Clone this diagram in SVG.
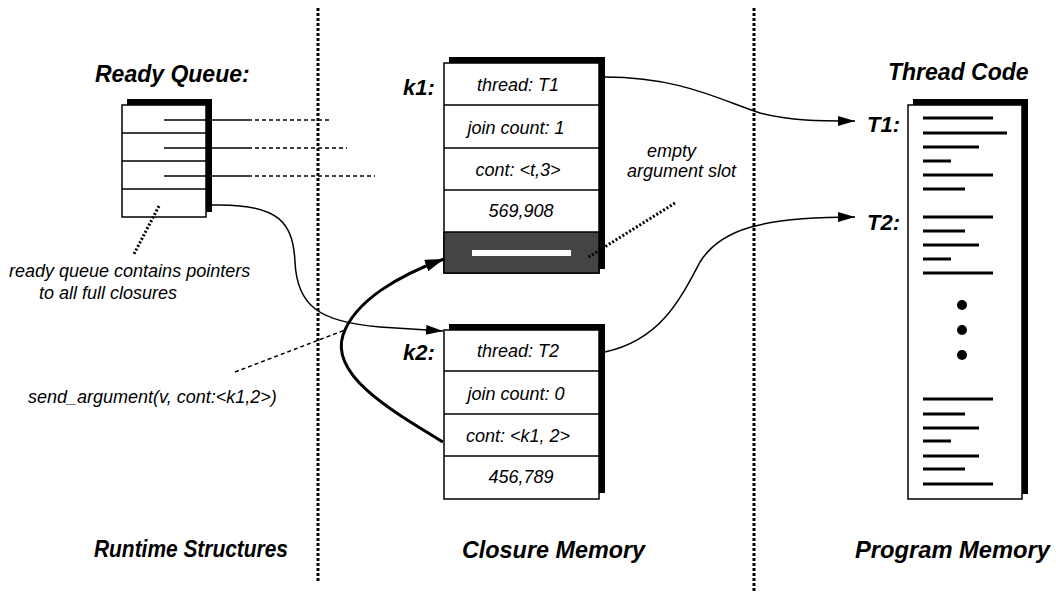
<svg xmlns="http://www.w3.org/2000/svg" width="1056" height="596" viewBox="0 0 1056 596">
<defs>
<marker id="ah" markerUnits="userSpaceOnUse" markerWidth="18" markerHeight="12" refX="17" refY="5" orient="auto">
<path d="M0,0 L17,5 L0,10 Z" fill="#000"/>
</marker>
<marker id="ahb" markerUnits="userSpaceOnUse" markerWidth="20" markerHeight="14" refX="19" refY="6" orient="auto">
<path d="M0,0 L19,6 L0,12 Z" fill="#000"/>
</marker>
<style>
text{font-family:"Liberation Sans",Arial,sans-serif;font-style:italic;fill:#000}
.cell{font-size:18px;text-anchor:middle}
.lbl{font-size:22px;font-weight:bold}
.hd{font-size:23px;font-weight:bold}
.note{font-size:18px}
.box{fill:#fff;stroke:#000;stroke-width:1.5}
.sh{fill:#000}
.div{stroke:#000;stroke-width:3;stroke-dasharray:3 2;fill:none}
.dot{stroke:#000;stroke-width:3;stroke-dasharray:2 2;fill:none}
.dash{stroke:#000;stroke-width:1.5;stroke-dasharray:4 3;fill:none}
.ln{stroke:#000;stroke-width:1.5;fill:none}
.code{stroke:#000;stroke-width:3}
</style>
</defs>

<g id="dividers">
<line class="div" x1="318" y1="8" x2="318" y2="582"/>
<line class="div" x1="754" y1="8" x2="754" y2="592"/>
</g>

<g id="ready-queue">
<text class="hd" x="95" y="82">Ready Queue:</text>
<rect class="sh" x="127" y="99" width="85" height="113"/>
<rect class="box" x="122" y="105" width="84" height="112"/>
<line class="ln" x1="122" y1="133" x2="206" y2="133"/>
<line class="ln" x1="122" y1="161" x2="206" y2="161"/>
<line class="ln" x1="122" y1="189" x2="206" y2="189"/>
<line class="ln" x1="164" y1="120" x2="248" y2="120"/>
<line class="ln" x1="164" y1="148" x2="248" y2="148"/>
<line class="ln" x1="164" y1="176" x2="248" y2="176"/>
<line class="dash" x1="248" y1="120" x2="332" y2="120"/>
<line class="dash" x1="248" y1="148" x2="347" y2="148"/>
<line class="dash" x1="248" y1="176" x2="375" y2="176"/>
</g>

<g id="k1">
<text class="lbl" x="403" y="95">k1:</text>
<rect class="sh" x="449" y="57" width="156" height="212"/>
<rect class="box" x="444" y="63" width="155" height="210"/>
<rect x="444" y="232" width="155" height="41" fill="#444" stroke="#000" stroke-width="1.5"/>
<line class="ln" x1="444" y1="105" x2="599" y2="105"/>
<line class="ln" x1="444" y1="148" x2="599" y2="148"/>
<line class="ln" x1="444" y1="190" x2="599" y2="190"/>
<rect x="472" y="250" width="99" height="6" fill="#fff"/>
<text class="cell" x="518" y="91">thread: T1</text>
<text class="cell" x="516" y="134">join count: 1</text>
<text class="cell" x="518" y="176">cont: &lt;t,3&gt;</text>
<text class="cell" x="521" y="217">569,908</text>
</g>

<g id="k2">
<text class="lbl" x="403" y="360">k2:</text>
<rect class="sh" x="449" y="324" width="156" height="169"/>
<rect class="box" x="444" y="330" width="155" height="169"/>
<line class="ln" x1="444" y1="371" x2="599" y2="371"/>
<line class="ln" x1="444" y1="414" x2="599" y2="414"/>
<line class="ln" x1="444" y1="456" x2="599" y2="456"/>
<text class="cell" x="518" y="357">thread: T2</text>
<text class="cell" x="516" y="400">join count: 0</text>
<text class="cell" x="518" y="442">cont: &lt;k1, 2&gt;</text>
<text class="cell" x="521" y="483">456,789</text>
</g>

<g id="thread-code">
<text class="hd" x="888" y="80">Thread Code</text>
<text class="lbl" x="867" y="132">T1:</text>
<text class="lbl" x="867" y="230">T2:</text>
<rect class="sh" x="913" y="99" width="115" height="395"/>
<rect class="box" x="908" y="105" width="114" height="394"/>
<line class="code" x1="923" y1="118" x2="993" y2="118"/>
<line class="code" x1="923" y1="133" x2="1007" y2="133"/>
<line class="code" x1="923" y1="147" x2="979" y2="147"/>
<line class="code" x1="923" y1="161" x2="951" y2="161"/>
<line class="code" x1="923" y1="175" x2="993" y2="175"/>
<line class="code" x1="923" y1="189" x2="965" y2="189"/>
<line class="code" x1="923" y1="217" x2="993" y2="217"/>
<line class="code" x1="923" y1="231" x2="965" y2="231"/>
<line class="code" x1="923" y1="245" x2="979" y2="245"/>
<line class="code" x1="923" y1="259" x2="951" y2="259"/>
<line class="code" x1="923" y1="273" x2="993" y2="273"/>
<circle cx="962" cy="305" r="5"/>
<circle cx="962" cy="330" r="5"/>
<circle cx="962" cy="355" r="5"/>
<line class="code" x1="923" y1="399" x2="993" y2="399"/>
<line class="code" x1="923" y1="414" x2="965" y2="414"/>
<line class="code" x1="923" y1="428" x2="979" y2="428"/>
<line class="code" x1="923" y1="441" x2="951" y2="441"/>
<line class="code" x1="923" y1="456" x2="979" y2="456"/>
<line class="code" x1="923" y1="469" x2="965" y2="469"/>
<line class="code" x1="923" y1="484" x2="993" y2="484"/>
</g>

<g id="annotations">
<line class="dot" x1="159" y1="206" x2="134" y2="254"/>
<text class="note" x="9" y="277">ready queue contains pointers</text>
<text class="note" x="39" y="299">to all full closures</text>
<text class="note" x="647" y="157">empty</text>
<text class="note" x="627" y="177">argument slot</text>
<line class="dot" x1="675" y1="203" x2="587" y2="258"/>
<text class="note" x="28" y="403">send_argument(v, cont:&lt;k1,2&gt;)</text>
<line class="dash" x1="235" y1="372" x2="345" y2="330"/>
</g>

<g id="connectors">
<path class="ln" d="M212,205 C282,203 293,225 295,262 C297,305 318,322 380,327 L443,331" marker-end="url(#ah)"/>
<path d="M443,442 C390,410 330,375 343,335 C355,300 400,275 444,259" fill="none" stroke="#000" stroke-width="3" marker-end="url(#ahb)"/>
<path class="ln" d="M605,77 C680,77 720,100 760,113 C790,121 820,121 855,121" marker-end="url(#ah)"/>
<path class="ln" d="M605,352 C660,340 680,300 700,262 C720,230 760,217 855,217" marker-end="url(#ah)"/>
</g>

<g id="section-labels">
<text class="hd" x="94" y="557" textLength="194" lengthAdjust="spacingAndGlyphs">Runtime Structures</text>
<text class="hd" x="462" y="558" textLength="183" lengthAdjust="spacingAndGlyphs">Closure Memory</text>
<text class="hd" x="855" y="558" textLength="195" lengthAdjust="spacingAndGlyphs">Program Memory</text>
</g>
</svg>
